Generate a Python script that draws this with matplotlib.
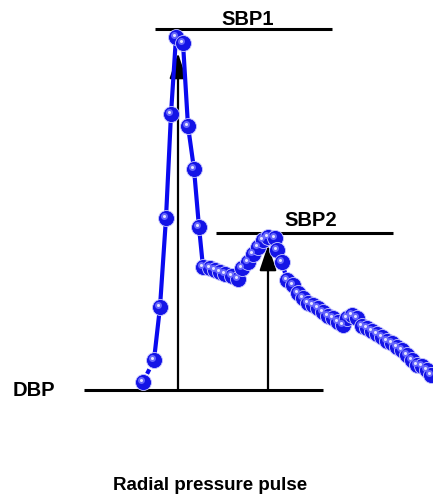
import matplotlib
matplotlib.use("Agg")
import matplotlib.pyplot as plt
import matplotlib.transforms as mtransforms

# pulse samples (x, y in picture units, y grows downward)
pulse_x = [143, 154, 160, 166, 171, 176, 183, 188, 194, 199, 203, 210, 215, 220, 225, 232,
           238, 242, 248, 253, 258, 263, 268, 275, 277, 282, 287, 293, 298, 303, 308, 313,
           318, 323, 328, 333, 338, 343, 347, 352, 357, 362, 367, 372, 377, 382, 387, 392,
           397, 402, 407, 412, 417, 422, 427, 431]
pulse_y = [382, 360, 307, 218, 114, 37, 43, 126, 169, 227, 267, 268, 270, 272, 274, 276,
           279, 268, 262, 254, 247, 240, 237, 238, 250, 262, 280, 285, 293, 298, 303, 305,
           308, 312, 316, 318, 322, 325, 318, 315, 318, 326, 328, 331, 334, 337, 341, 343,
           347, 350, 355, 360, 365, 366, 370, 375]

level_names = ["SBP1", "SBP2", "DBP"]
level_y = [29, 233, 390]
level_x0 = [155, 216, 84]
level_x1 = [332, 393, 323]
label_x = [248, 311, 13]
label_y = [25, 226, 391]

arrow_x = [178, 268]
arrow_top = [53, 245]

title = "Radial pressure pulse"

fig = plt.figure(figsize=(4.33, 5.01), dpi=100)
ax = fig.add_axes([0, 0, 1, 1])
ax.set_xlim(0, 433)
ax.set_ylim(501, 0)
ax.axis("off")

font = dict(family="Liberation Sans", fontweight="bold", color="black")

# reference levels
for name, y, x0, x1, lx, ly in zip(level_names, level_y, level_x0, level_x1, label_x, label_y):
    ax.plot([x0, x1], [y, y], color="black", lw=2.2, solid_capstyle="butt", zorder=2)
    if name == "DBP":
        ax.text(lx, ly, name, ha="left", va="center", fontsize=14.5, **font)
    else:
        ax.text(lx, ly, name, ha="center", va="baseline", fontsize=14.5, **font)

# arrows from DBP up to each peak
for x, top in zip(arrow_x, arrow_top):
    ax.annotate("", xy=(x, top), xytext=(x, level_y[2]),
                arrowprops=dict(arrowstyle="-|>,head_length=1.2,head_width=0.4",
                                color="black", lw=1.6, mutation_scale=13,
                                shrinkA=0, shrinkB=0), zorder=3)

# pulse curve with shaded "sphere" markers
ax.plot(pulse_x[:2], pulse_y[:2], color="#0a0af0", lw=3, ls=(0, (1.2, 1.0)), zorder=4)
ax.plot(pulse_x[1:], pulse_y[1:], color="#0a0af0", lw=3, zorder=4)
ax.plot(pulse_x, pulse_y, ls="none", marker="o", ms=11.5, mfc="#1414e6",
        mec="#c8c8ff", mew=0.6, zorder=5)
shift = mtransforms.ScaledTranslation(-1.3 / 72, 1.3 / 72, fig.dpi_scale_trans)
ax.plot(pulse_x, pulse_y, ls="none", marker="o", ms=5, mfc="#6f6fff", mec="none",
        alpha=0.9, transform=ax.transData + shift, zorder=6)
ax.plot(pulse_x, pulse_y, ls="none", marker="o", ms=2.2, mfc="#e6e6ff", mec="none",
        transform=ax.transData + shift, zorder=7)

ax.text(210, 486, title, ha="center", va="center", fontsize=13.5, **font)

fig.savefig("out.png", dpi=100)
